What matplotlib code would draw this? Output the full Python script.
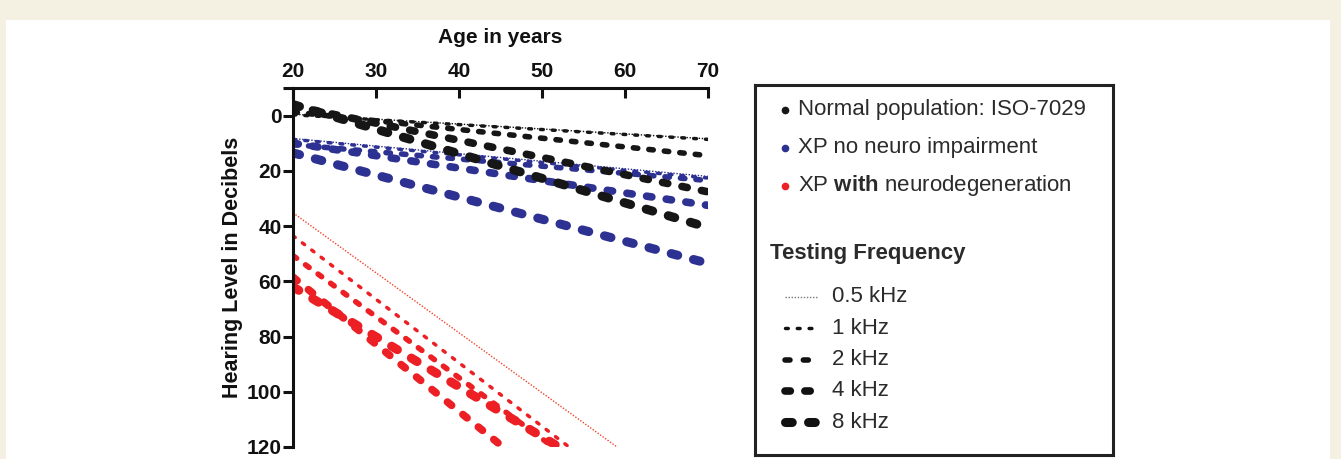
import matplotlib
matplotlib.use("Agg")
import matplotlib.pyplot as plt
from matplotlib.patches import Rectangle

plt.rcParams['font.family'] = ['Liberation Sans', 'DejaVu Sans']
plt.rcParams['mathtext.fontset'] = 'custom'
plt.rcParams['mathtext.bf'] = 'Liberation Sans:bold'
plt.rcParams['mathtext.rm'] = 'Liberation Sans'

# data: hearing level (dB) at age 20 and age 70
ages = [20, 70]
freqs = ['0.5 kHz', '1 kHz', '2 kHz', '4 kHz', '8 kHz']
normal_20 = [-0.5, -0.3, -1.3, -3.5, -4.0]
normal_70 = [8.4, 8.6, 14.5, 27.6, 40.5]
xp_20 = [8.3, 8.6, 10.5, 10.0, 13.5]
xp_70 = [22.0, 22.6, 23.5, 32.5, 53.5]
xpn_20 = [35.2, 43.5, 50.7, 58.5, 62.0]
xpn_70 = [143.8, 158.5, 161.2, 180.0, 152.5]

groups = ['Normal population: ISO-7029', 'XP no neuro impairment',
          'XP $\\mathbf{with}$ neurodegeneration']
colors = ['#161616', '#2d3192', '#ec2024']

# line styles per testing frequency
widths = [1.0, 2.5, 4.0, 5.5, 6.5]
dashes = [(1.0, 1.2), (0.8, 2.6), (0.8, 2.0), (0.7, 1.9), (0.75, 1.8)]
legend_dashes = [(1.0, 1.2), (0.8, 2.6), (0.9, 2.4), (0.7, 1.9), (0.75, 1.8)]

fig = plt.figure(figsize=(13.41, 4.59), dpi=100, facecolor='#f4f0e2')
fig.add_artist(Rectangle((6 / 1341, 0), 1324 / 1341, 439 / 459,
                         transform=fig.transFigure, facecolor='white',
                         edgecolor='none', zorder=0))

ax = fig.add_axes([293 / 1341, 12 / 459, 415 / 1341, 359 / 459])
ax.set_facecolor('none')

series = [(xpn_20, xpn_70, colors[2]), (xp_20, xp_70, colors[1]),
          (normal_20, normal_70, colors[0])]
for start, end, col in series:
    for i in range(len(freqs)):
        cap = 'butt' if i == 0 else 'round'
        c = '#f0442a' if (i == 0 and col == colors[2]) else col
        ax.plot(ages, [start[i], end[i]], color=c, lw=widths[i],
                dashes=dashes[i], dash_capstyle=cap, solid_capstyle=cap)

ax.set_xlim(20, 70)
ax.set_ylim(120, -10)
ax.set_xticks([20, 30, 40, 50, 60, 70])
ax.set_yticks([0, 20, 40, 60, 80, 100, 120])
ax.set_yticks([-10], minor=True)
ax.xaxis.tick_top()
ax.xaxis.set_label_position('top')
for s in ['right', 'bottom']:
    ax.spines[s].set_visible(False)
for s in ['left', 'top']:
    ax.spines[s].set_linewidth(2.2)
    ax.spines[s].set_color('#111111')
ax.tick_params(axis='x', direction='in', length=7, width=2.2, pad=5,
               labelsize=15, colors='#111111')
ax.tick_params(axis='y', which='both', direction='out', length=7, width=2.2,
               pad=1, labelsize=15, colors='#111111')
for lab in ax.get_xticklabels() + ax.get_yticklabels():
    lab.set_fontweight('bold')
ax.set_xlabel('Age in years', fontsize=15, fontweight='bold', labelpad=14,
              color='#111111')
ax.set_ylabel('Hearing Level in Decibels', fontsize=15.5, fontweight='bold',
              labelpad=3, color='#111111')

# legend box
lg = fig.add_axes([755 / 1341, 4 / 459, 358 / 1341, 370 / 459])
lg.set_xlim(0, 358)
lg.set_ylim(370, 0)
lg.set_xticks([])
lg.set_yticks([])
for s in lg.spines.values():
    s.set_linewidth(2.2)
    s.set_color('#222222')

txt = '#2b2b2b'
for k, name in enumerate(groups):
    y = 25 + 38 * k
    lg.plot([30], [y], 'o', ms=4.5, color=colors[k])
    lg.text(43, y, name, fontsize=16, color=txt, va='center')
lg.text(15, 168, 'Testing Frequency', fontsize=16, fontweight='bold',
        color=txt, va='center')
for i, f in enumerate(freqs):
    y = 212 + 31.3 * i
    cap = 'butt' if i == 0 else 'round'
    col = '#777777' if i == 0 else '#111111'
    lg.plot([30, 62], [y, y], color=col, lw=widths[i],
            dashes=legend_dashes[i], dash_capstyle=cap)
    lg.text(77, y, f, fontsize=16, color=txt, va='center')

fig.savefig('out.png', dpi=100, facecolor=fig.get_facecolor())
